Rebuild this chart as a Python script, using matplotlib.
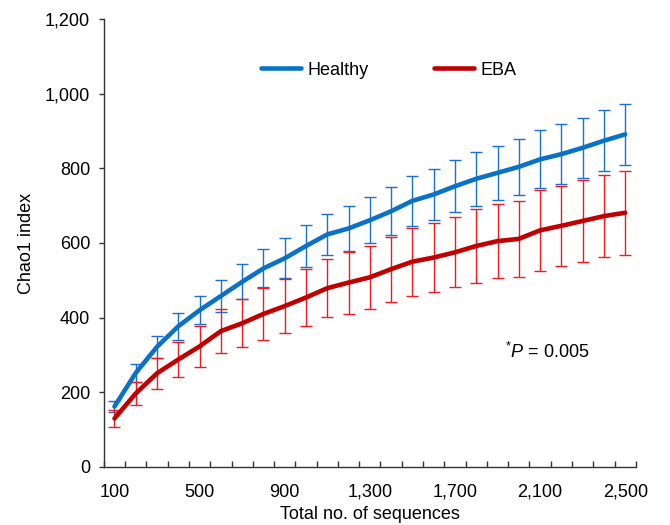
import matplotlib
matplotlib.use("Agg")
import matplotlib.pyplot as plt
import numpy as np

plt.rcParams['font.family'] = ['Liberation Sans', 'DejaVu Sans']
plt.rcParams['mathtext.fontset'] = 'custom'
plt.rcParams['mathtext.rm'] = 'Liberation Sans'
plt.rcParams['mathtext.it'] = 'Liberation Sans:italic'

sequences = [100, 200, 300, 400, 500, 600, 700, 800, 900, 1000, 1100, 1200, 1300,
             1400, 1500, 1600, 1700, 1800, 1900, 2000, 2100, 2200, 2300, 2400, 2500]
healthy = [162, 252, 322, 377, 420, 458, 496, 532, 559, 592, 623, 639, 661,
           685, 713, 730, 752, 772, 788, 804, 824, 838, 855, 874, 891]
healthy_err = [16, 24, 30, 36, 38, 44, 47, 51, 54, 56, 55, 60, 62,
               64, 67, 68, 69, 72, 73, 75, 78, 80, 80, 82, 82]
eba = [130, 197, 251, 288, 323, 364, 385, 410, 431, 454, 479, 494, 508,
       530, 550, 561, 575, 592, 605, 611, 634, 646, 659, 672, 681]
eba_err = [22, 31, 41, 48, 54, 60, 64, 70, 73, 77, 77, 83, 85,
           87, 91, 92, 94, 99, 100, 102, 108, 108, 109, 110, 113]
xtick_labels = ['100', '500', '900', '1,300', '1,700', '2,100', '2,500']
ytick_labels = ['0', '200', '400', '600', '800', '1,000', '1,200']

FS = 13

fig = plt.figure(figsize=(6.7, 5.25), dpi=100)
ax = fig.add_axes([0.155, 0.1105, 0.794, 0.8533])

pos = np.arange(len(sequences))

ax.errorbar(pos, healthy, yerr=healthy_err, fmt='none', ecolor='#1c70cf',
            elinewidth=1.0, capsize=4.3, capthick=1.0, zorder=2)
ax.errorbar(pos, eba, yerr=eba_err, fmt='none', ecolor='#ee1c22',
            elinewidth=1.0, capsize=4.3, capthick=1.0, zorder=2)
ax.plot(pos, healthy, color='#0A72C4', lw=3.3, label='Healthy', zorder=3,
        solid_joinstyle='round', solid_capstyle='round')
ax.plot(pos, eba, color='#C00000', lw=3.3, label='EBA', zorder=3,
        solid_joinstyle='round', solid_capstyle='round')

ax.set_xlim(-0.5, len(sequences) - 0.5)
ax.set_ylim(0, 1200)

label_pos = [i for i, s in enumerate(sequences) if str(s) in [l.replace(',', '') for l in xtick_labels]]
ax.set_xticks(label_pos)
ax.set_xticklabels(xtick_labels)
ax.set_xticks(np.arange(-0.5, len(sequences)), minor=True)
ax.tick_params(axis='x', which='major', length=0, pad=12, labelsize=FS)
ax.tick_params(axis='x', which='minor', direction='in', length=4.5, width=1.0, color='#333333')

ax.set_yticks(np.arange(0, 1201, 200))
ax.set_yticklabels(ytick_labels)
ax.tick_params(axis='y', direction='out', length=3.4, width=1.0, pad=6.5,
               labelsize=FS, color='#333333')

for s in ['top', 'right']:
    ax.spines[s].set_visible(False)
for s in ['left', 'bottom']:
    ax.spines[s].set_linewidth(1.0)
    ax.spines[s].set_color('#333333')

ax.set_xlabel('Total no. of sequences', fontsize=FS, labelpad=4)
ax.set_ylabel('Chao1 index', fontsize=FS, labelpad=7)

ax.legend(loc='center', bbox_to_anchor=(0.536, 0.886), ncol=2, frameon=False,
          fontsize=FS, handlelength=2.2, handletextpad=0.4, columnspacing=3.6)

ax.text(0.834, 0.257, r'$^{*}P$ = 0.005', transform=ax.transAxes,
        fontsize=FS, ha='center', va='center')

fig.savefig('out.png', dpi=100)
